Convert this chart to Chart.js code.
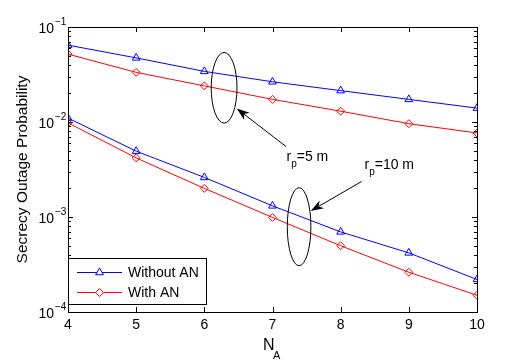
<!DOCTYPE html>
<html lang="en">
<head>
    <meta charset="UTF-8">
    <title>Secrecy Outage Probability vs N_A</title>
    <script src="https://cdn.jsdelivr.net/npm/chart.js"></script>
    <style>
        body { margin: 0; background: #fff; }
        #wrap { width: 526px; height: 360px; }
    </style>
</head>
<body>
    <div id="wrap"><canvas id="outageChart" width="526" height="360"></canvas></div>

    <script>
        // number of antennas at Alice
        const nA = [4, 5, 6, 7, 8, 9, 10];

        // r_p = 5 m
        const noAN5 = [0.0644, 0.0473, 0.0341, 0.0265, 0.0214, 0.0173, 0.0140];
        const withAN5 = [0.0518, 0.0333, 0.0240, 0.0173, 0.0130, 0.0096, 0.00766];

        // r_p = 10 m
        const noAN10 = [0.0110, 0.00493, 0.00261, 0.00131, 0.000697, 0.000419, 0.00022];
        const withAN10 = [0.0098, 0.00419, 0.0020, 0.00099, 0.000498, 0.000262, 0.00015];

        const xTicks = [4, 5, 6, 7, 8, 9, 10];
        const yDecades = [-4, -3, -2, -1];

        const FONT = '"Liberation Sans", Arial, Helvetica, sans-serif';
        const BLUE = '#0000ff';
        const RED = '#ff0000';

        function toPoints(ys) {
            return nA.map((x, i) => ({ x: x, y: ys[i] }));
        }

        function series(label, ys, color, style) {
            return {
                label: label,
                data: toPoints(ys),
                borderColor: color,
                backgroundColor: 'rgba(0,0,0,0)',
                borderWidth: 1,
                pointStyle: style,
                pointRadius: style === 'triangle' ? 4.5 : 4,
                pointBorderColor: color,
                pointBackgroundColor: 'rgba(0,0,0,0)',
                pointBorderWidth: 1,
                tension: 0
            };
        }

        function arrow(ctx, x1, y1, x2, y2) {
            const a = Math.atan2(y2 - y1, x2 - x1);
            const len = 13, half = 4.5;
            ctx.beginPath();
            ctx.moveTo(x1, y1);
            ctx.lineTo(x2 - Math.cos(a) * len * 0.7, y2 - Math.sin(a) * len * 0.7);
            ctx.stroke();
            ctx.beginPath();
            ctx.moveTo(x2, y2);
            ctx.lineTo(x2 - Math.cos(a) * len - Math.sin(a) * half, y2 - Math.sin(a) * len + Math.cos(a) * half);
            ctx.lineTo(x2 - Math.cos(a) * len * 0.7, y2 - Math.sin(a) * len * 0.7);
            ctx.lineTo(x2 - Math.cos(a) * len + Math.sin(a) * half, y2 - Math.sin(a) * len - Math.cos(a) * half);
            ctx.closePath();
            ctx.fill();
        }

        function subText(ctx, main, sub, rest, x, y, size) {
            ctx.font = size + 'px ' + FONT;
            ctx.fillText(main, x, y);
            let w = ctx.measureText(main).width;
            ctx.font = Math.round(size * 0.72) + 'px ' + FONT;
            ctx.fillText(sub, x + w, y + 6);
            w += ctx.measureText(sub).width;
            if (rest) {
                ctx.font = size + 'px ' + FONT;
                ctx.fillText(rest, x + w, y);
            }
        }

        // MATLAB-like axes box, ticks, labels, legend and annotations
        const matlabAxes = {
            id: 'matlabAxes',
            afterDatasetsDraw(chart) {
                const ctx = chart.ctx;
                const a = chart.chartArea;
                const xs = chart.scales.x;
                const ys = chart.scales.y;
                ctx.save();
                ctx.strokeStyle = '#000';
                ctx.fillStyle = '#000';
                ctx.lineWidth = 1;

                // box
                ctx.strokeRect(Math.round(a.left) + 0.5, Math.round(a.top) + 0.5,
                    Math.round(a.right - a.left), Math.round(a.bottom - a.top));

                // x ticks
                ctx.beginPath();
                xTicks.forEach(t => {
                    const px = Math.round(xs.getPixelForValue(t)) + 0.5;
                    ctx.moveTo(px, a.bottom); ctx.lineTo(px, a.bottom - 5);
                    ctx.moveTo(px, a.top); ctx.lineTo(px, a.top + 5);
                });
                // y ticks, major and minor
                yDecades.forEach(d => {
                    for (let m = 1; m <= 9; m++) {
                        if (d === -1 && m > 1) break;
                        const py = Math.round(ys.getPixelForValue(m * Math.pow(10, d))) + 0.5;
                        const len = m === 1 ? 5 : 3;
                        ctx.moveTo(a.left, py); ctx.lineTo(a.left + len, py);
                        ctx.moveTo(a.right, py); ctx.lineTo(a.right - len, py);
                    }
                });
                ctx.stroke();

                // x tick labels
                ctx.font = '14px ' + FONT;
                ctx.textAlign = 'center';
                ctx.textBaseline = 'alphabetic';
                xTicks.forEach(t => {
                    ctx.fillText(String(t), xs.getPixelForValue(t), a.bottom + 17);
                });

                // y tick labels 10^d
                yDecades.forEach(d => {
                    const py = ys.getPixelForValue(Math.pow(10, d));
                    ctx.font = '14px ' + FONT;
                    ctx.textAlign = 'right';
                    ctx.fillText('10', 54, py + 5.5);
                    ctx.font = '10px ' + FONT;
                    ctx.textAlign = 'left';
                    ctx.fillText('\u2212' + (-d), 55, py - 2);
                });

                // axis titles
                ctx.textAlign = 'left';
                ctx.font = '16px ' + FONT;
                ctx.fillText('N', 263, 349.5);
                ctx.font = '11px ' + FONT;
                ctx.fillText('A', 273, 359);

                ctx.save();
                ctx.translate(27, (a.top + a.bottom) / 2);
                ctx.rotate(-Math.PI / 2);
                ctx.textAlign = 'center';
                ctx.font = '15.5px ' + FONT;
                ctx.fillText('Secrecy Outage Probability', 0, 0);
                ctx.restore();

                // ellipses around the curve pairs
                const e1x = xs.getPixelForValue(6.29), e1y = ys.getPixelForValue(0.0229);
                const e2x = xs.getPixelForValue(7.39), e2y = ys.getPixelForValue(0.00079);
                ctx.beginPath();
                ctx.ellipse(e1x, e1y, 12.9, 35.3, 0, 0, Math.PI * 2);
                ctx.stroke();
                ctx.beginPath();
                ctx.ellipse(e2x, e2y, 11.8, 39, 0, 0, Math.PI * 2);
                ctx.stroke();

                // arrows and r_p texts
                arrow(ctx, 286, 146.5, e1x + 12.6, 108.5);
                arrow(ctx, 361.5, 181.5, e2x + 11.6, 211);
                ctx.textAlign = 'left';
                subText(ctx, 'r', 'p', '=5 m', 286.5, 161, 14);
                subText(ctx, 'r', 'p', '=10 m', 364.5, 169, 14);

                // legend
                ctx.fillStyle = '#fff';
                ctx.fillRect(69, 258, 138, 46);
                ctx.strokeStyle = '#000';
                ctx.strokeRect(68.5, 258.5, 138, 46);
                const rows = [
                    { ds: chart.data.datasets[0], y: 272 },
                    { ds: chart.data.datasets[1], y: 292 }
                ];
                rows.forEach(r => {
                    ctx.strokeStyle = r.ds.borderColor;
                    ctx.beginPath();
                    ctx.moveTo(77, r.y + 0.5); ctx.lineTo(122, r.y + 0.5);
                    ctx.stroke();
                    ctx.fillStyle = '#fff';
                    Chart.helpers.drawPoint(ctx, {
                        pointStyle: r.ds.pointStyle,
                        radius: r.ds.pointRadius,
                        rotation: 0,
                        borderWidth: 1
                    }, 99.5, r.y + 0.5);
                    ctx.fillStyle = '#000';
                    ctx.font = '14px ' + FONT;
                    ctx.textAlign = 'left';
                    ctx.fillText(r.ds.label, 128, r.y + 5);
                });
                ctx.restore();
            }
        };

        new Chart(document.getElementById('outageChart'), {
            type: 'line',
            data: {
                datasets: [
                    series('Without AN', noAN5, BLUE, 'triangle'),
                    series('With AN', withAN5, RED, 'rectRot'),
                    series('Without AN', noAN10, BLUE, 'triangle'),
                    series('With AN', withAN10, RED, 'rectRot')
                ]
            },
            options: {
                responsive: false,
                animation: false,
                layout: { padding: { left: 68, right: 49, top: 27, bottom: 48 } },
                scales: {
                    x: { type: 'linear', min: 4, max: 10, display: false },
                    y: { type: 'logarithmic', min: 1e-4, max: 1e-1, display: false }
                },
                plugins: {
                    legend: { display: false },
                    tooltip: { enabled: false }
                }
            },
            plugins: [matlabAxes]
        });
    </script>
</body>
</html>
